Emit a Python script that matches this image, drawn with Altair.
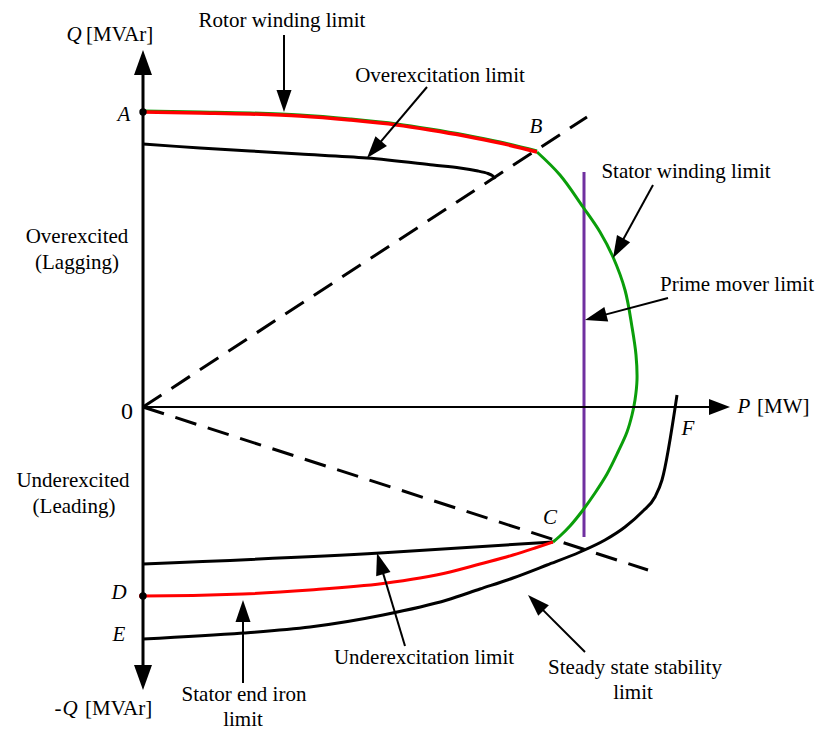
import numpy as np
import pandas as pd
import altair as alt

# Capability diagram of a synchronous generator: active power P (MW) on x,
# reactive power Q (MVAr) on y, origin at the axes' crossing.

rotor_p = [0, 57, 107, 157, 207, 254, 287, 322, 357, 394]
rotor_q = [295, 294, 293, 291, 287, 282, 277, 271, 264, 255]

stator_p = [394, 417, 440, 457, 470, 482, 489, 493, 494, 492, 489, 484, 475, 464,
            452, 440, 427, 417, 410]
stator_q = [255, 232, 200, 175, 150, 117, 80, 52, 27, 7, -8, -25, -45, -67,
            -86, -103, -119, -129, -135]

overexc_p = [0, 57, 107, 157, 224, 290, 317, 335, 345, 350, 352]
overexc_q = [263, 259, 256, 253, 249, 242, 239, 236, 233.5, 231, 228]

underexc_p = [0, 237, 410]
underexc_q = [-157, -146, -135]

end_iron_p = [-4, 0, 100, 167, 240, 277, 307, 337, 370, 392, 410]
end_iron_q = [-189, -189, -187, -183, -176.5, -171, -165, -157, -148, -141, -135]

stability_p = [0, 100, 167, 240, 304, 337, 370, 404, 437, 462, 482, 499, 512, 519, 534]
stability_q = [-232, -226, -220, -208, -193, -182, -171, -158, -145, -133, -120, -105,
               -90, -73, 12]

prime_mover_p = [441, 441]
prime_mover_q = [235, -130]

pf_lag_p = [0, 444]
pf_lag_q = [0, 290]
pf_lead_p = [0, 505]
pf_lead_q = [0, -163]

# axis ends (arrow tips)
q_axis_top = (0, 357)
q_axis_bottom = (0, -283)
p_axis_end = (587, 0)

# marked points A and D
dots_p = [0, 0]
dots_q = [295, -189]

# annotation arrows: tail -> tip
arrow_tail_p = [141, 284, 510, 525, 262, 100, 442]
arrow_tail_q = [372, 320, 222, 109, -239, -276, -245]
arrow_tip_p = [141, 224, 470, 442, 234, 100, 385]
arrow_tip_q = [295, 249, 149, 87, -146, -193, -188]

# labels
plain_text = ["Rotor winding limit", "Overexcitation limit", "Stator winding limit",
              "Prime mover limit", "Overexcited", "(Lagging)", "Underexcited",
              "(Leading)", "Stator end iron", "limit", "Underexcitation limit",
              "Steady state stability", "limit", "-"]
plain_p = [139, 297, 543, 594, -66, -66, -70, -69, 101, 100, 281, 492, 490, -85]
plain_q = [386, 331, 235, 122, 170, 144, -74, -100, -288, -313, -251, -261, -286, -302]

italic_text = ["A", "B", "C", "D", "E", "F", "Q", "Q", "P"]
italic_p = [-19, 393, 407, -24, -24, 545, -69, -73, 601]
italic_q = [292, 280, -111, -186, -228, -22, 372, -302, 0]

unit_text = ["[MVAr]", "[MVAr]", "[MW]"]
unit_p = [-57, -58, 614]
unit_q = [372, -302, 0]

origin_text = ["0"]
origin_p = [-16]
origin_q = [-5]

W, H = 826, 731
X_DOMAIN = [-143, 683]
Y_DOMAIN = [-324, 407]
FONT = "Times New Roman, Liberation Serif, serif"

xs = alt.Scale(domain=X_DOMAIN, nice=False, zero=False)
ys = alt.Scale(domain=Y_DOMAIN, nice=False, zero=False)


def enc(**extra):
    return dict(x=alt.X("p:Q", scale=xs, axis=None),
                y=alt.Y("q:Q", scale=ys, axis=None), **extra)


def curve(p, q, color, width, dash=None, interp="monotone", **extra):
    df = pd.DataFrame({"p": p, "q": q, "i": range(len(p))})
    kw = dict(color=color, strokeWidth=width, strokeCap="butt", strokeJoin="round",
              interpolate=interp, **extra)
    if dash:
        kw["strokeDash"] = dash
    return alt.Chart(df).mark_line(**kw).encode(**enc(order="i:O"))


def arrows(tails, tips, length, half_width, shaft_width):
    tails = np.asarray(tails, dtype=float)
    tips = np.asarray(tips, dtype=float)
    d = tips - tails
    n = np.hypot(d[:, 0], d[:, 1])
    u = d / n[:, None]
    ends = tips - u * length * 0.6
    angle = np.degrees(np.arctan2(d[:, 0], d[:, 1])) % 360
    rows = []
    for k in range(len(tails)):
        rows.append({"p": tails[k, 0], "q": tails[k, 1], "g": k, "i": 0})
        rows.append({"p": ends[k, 0], "q": ends[k, 1], "g": k, "i": 1})
    shafts = alt.Chart(pd.DataFrame(rows)).mark_line(
        color="black", strokeWidth=shaft_width, strokeCap="butt"
    ).encode(**enc(detail="g:N", order="i:O"))
    heads_df = pd.DataFrame({"p": tips[:, 0], "q": tips[:, 1], "a": angle})
    shape = f"M0,0L{half_width / length:.3f},1L-{half_width / length:.3f},1Z"
    heads = alt.Chart(heads_df).mark_point(
        shape=shape, filled=True, color="black", opacity=1,
        size=(2 * length) ** 2, strokeWidth=0
    ).encode(**enc(angle=alt.Angle("a:Q", scale=None)))
    return shafts + heads


def labels(text, p, q, **kw):
    df = pd.DataFrame({"t": text, "p": p, "q": q})
    base = dict(font=FONT, fontSize=21, color="black", baseline="middle")
    base.update(kw)
    return alt.Chart(df).mark_text(**base).encode(**enc(text="t:N"))


layers = [
    curve(pf_lag_p, pf_lag_q, "black", 3, [22, 12], interp="linear"),
    curve(pf_lead_p, pf_lead_q, "black", 3, [22, 12], interp="linear"),
    curve(overexc_p, overexc_q, "black", 3, interp="catmull-rom"),
    curve(underexc_p, underexc_q, "black", 3),
    curve(stability_p, stability_q, "black", 3),
    curve(prime_mover_p, prime_mover_q, "#7030a0", 3, interp="linear"),
    curve(rotor_p, rotor_q, "#0a9e0a", 3, yOffset=-1),
    curve(stator_p, stator_q, "#0a9e0a", 3, interp="catmull-rom"),
    curve(rotor_p, rotor_q, "#ff0000", 3.5),
    curve(end_iron_p, end_iron_q, "#ff0000", 3),
]

# axes drawn as arrows
layers.append(arrows([(0, 0), (0, 0)], [q_axis_top, q_axis_bottom], 25, 9, 3))
layers.append(arrows([(0, 0)], [p_axis_end], 21, 8, 2))

dots = pd.DataFrame({"p": dots_p, "q": dots_q})
layers.append(alt.Chart(dots).mark_point(shape="circle", filled=True, color="black",
                                          opacity=1, size=55).encode(**enc()))

layers.append(arrows(list(zip(arrow_tail_p, arrow_tail_q)),
                     list(zip(arrow_tip_p, arrow_tip_q)), 22, 7.5, 2))

layers += [
    labels(plain_text, plain_p, plain_q, align="center"),
    labels(italic_text, italic_p, italic_q, align="center", fontStyle="italic"),
    labels(unit_text, unit_p, unit_q, align="left"),
    labels(origin_text, origin_p, origin_q, align="center", fontSize=24),
]

chart = alt.layer(*layers).properties(
    width=W, height=H, padding=0, autosize=alt.AutoSizeParams(type="none")
).configure_view(stroke=None)

chart.save("out.html", embed_options={"renderer": "svg", "actions": False})
